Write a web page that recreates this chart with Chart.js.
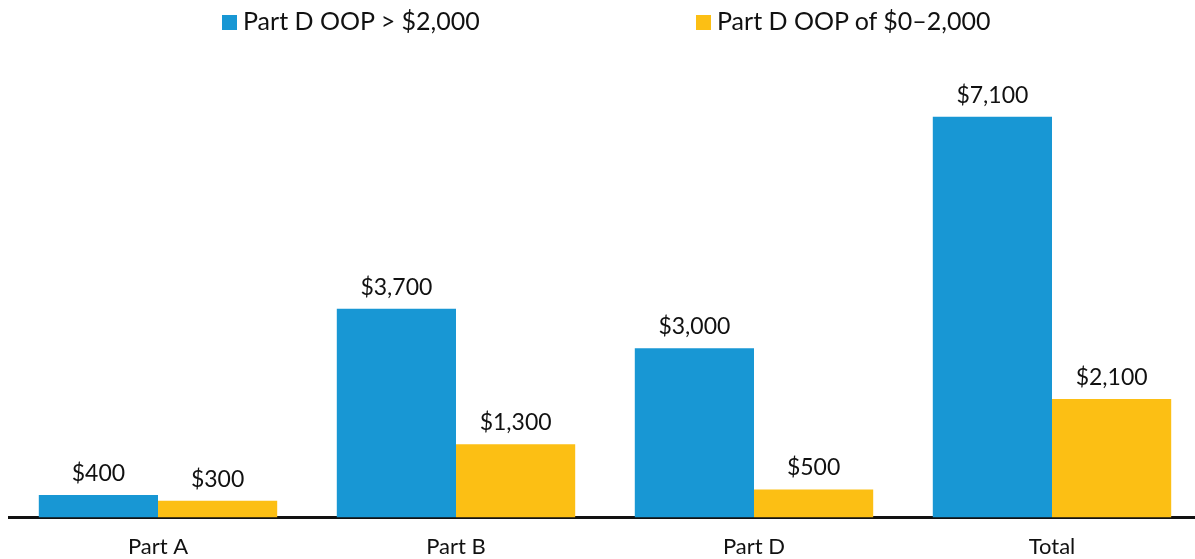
<!DOCTYPE html>
<html>
<head>
<meta charset="utf-8">
<script src="https://cdn.jsdelivr.net/npm/chart.js@4"></script>
<style>
html,body{margin:0;padding:0;background:#fff;overflow:hidden;width:1195px;height:559px;}
#wrap{position:absolute;left:0;top:0;width:1201px;height:576px;}
.leg{position:absolute;top:4px;font-family:Lato,sans-serif;font-size:25px;color:#111;white-space:nowrap;line-height:32px;}
.leg i{display:inline-block;width:15px;height:15px;margin-right:6px;vertical-align:0px;}
</style>
</head>
<body>
<div id="wrap"><canvas id="c"></canvas></div>
<div id="legend"></div>
<script>
var categories=["Part A","Part B","Part D","Total"];
var seriesNames=["Part D OOP > $2,000","Part D OOP of $0\u20132,000"];
var over2000=[400,3700,3000,7100];
var upTo2000=[300,1300,500,2100];
var colors=["#1897d4","#fcbf14"];
var legendLeft=[222,696];

var lg=document.getElementById("legend");
seriesNames.forEach(function(n,i){
  var s=document.createElement("div");s.className="leg";s.style.left=legendLeft[i]+"px";
  s.innerHTML='<i style="background:'+colors[i]+'"></i>';
  s.appendChild(document.createTextNode(n));
  lg.appendChild(s);
});

function money(v){return "$"+v.toLocaleString("en-US");}

var valueLabels={id:"valueLabels",afterDatasetsDraw:function(chart){
  var ctx=chart.ctx;ctx.save();
  ctx.font="23px Lato, sans-serif";ctx.fillStyle="#111";ctx.textAlign="center";ctx.textBaseline="alphabetic";
  chart.data.datasets.forEach(function(ds,i){
    chart.getDatasetMeta(i).data.forEach(function(bar,j){
      ctx.fillText(money(ds.data[j]),bar.x,bar.y-14);
    });
  });
  ctx.restore();
}};

new Chart(document.getElementById("c"),{
  type:"bar",
  data:{labels:categories,datasets:[
    {label:seriesNames[0],data:over2000,backgroundColor:colors[0],categoryPercentage:0.8,barPercentage:1},
    {label:seriesNames[1],data:upTo2000,backgroundColor:colors[1],categoryPercentage:0.8,barPercentage:1}
  ]},
  options:{
    responsive:true,maintainAspectRatio:false,animation:false,
    layout:{padding:{left:9,right:0,top:66,bottom:0}},
    plugins:{legend:{display:false},tooltip:{enabled:false}},
    scales:{
      x:{grid:{display:false,drawTicks:false},border:{display:true,color:"#111",width:3},
         ticks:{color:"#111",padding:16,font:{family:"Lato",size:22}}},
      y:{display:false,min:0,max:8000}
    }
  },
  plugins:[valueLabels]
});
</script>
</body>
</html>
